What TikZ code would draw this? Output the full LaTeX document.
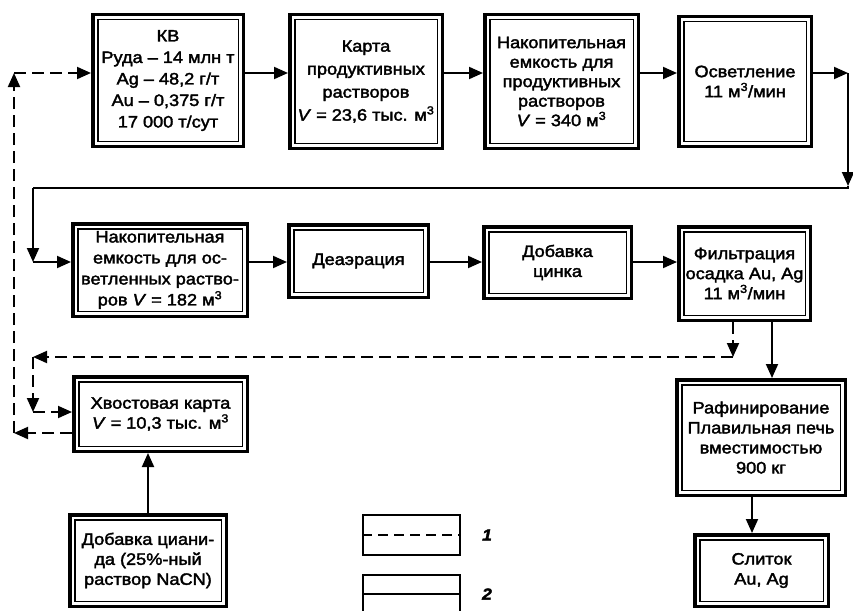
\documentclass[tikz,border=0pt]{standalone}
\usepackage{fontspec}
\setmainfont[FakeStretch=1.1,FakeBold=2.2]{Liberation Sans}
\usetikzlibrary{arrows.meta}
\newcommand{\cub}{м\textsuperscript{3}}
\begin{document}
\begin{tikzpicture}[x=1pt,y=-1pt,
  procbox/.style={draw, line width=3.5pt, inner sep=0pt, align=center,
    font=\fontsize{16.5}{20}\selectfont,
    path picture={\draw[line width=1.5pt]
      ([shift={(5pt,-5pt)}]path picture bounding box.north west) rectangle
      ([shift={(-5pt,5pt)}]path picture bounding box.south east);}},
  bs/.style={font=\fontsize{16.5}{#1}\selectfont},
  arr/.style={line width=1.9pt, -{Triangle[length=14pt,width=12pt]}},
  dsh/.style={arr, dash pattern=on 12pt off 6pt},
  legbox/.style={draw, line width=1.3pt, inner sep=0pt},
  leglabel/.style={font=\fontsize{16}{18}\selectfont\bfseries\itshape}]
\clip (0,0) rectangle (853,610);

% process boxes, top row
\node[procbox, bs=21.5, minimum width=150.5, minimum height=131.5] (kv) at (168,80.5)
  {КВ\\Руда – 14 млн т\\Ag – 48,2 г/т\\Au – 0,375 г/т\\17 000 т/сут};
\node[procbox, bs=23, minimum width=152.5, minimum height=133.5] (karta) at (366,81.5)
  {Карта\\продуктивных\\растворов\\\textit{V} = 23,6 тыс. \cub};
\node[procbox, bs=19.5, minimum width=153.5, minimum height=133.5] (nak1) at (561.5,81.5)
  {Накопительная\\емкость для\\продуктивных\\растворов\\\textit{V} = 340 \cub};
\node[procbox, minimum width=132.5, minimum height=129.5] (osv) at (745,81.5)
  {Осветление\\11 \cub/мин};

% middle row
\node[procbox, bs=21, minimum width=174.5, minimum height=92.5] (nak2) at (160,270)
  {Накопительная\\емкость для ос-\\ветленных раство-\\ров \textit{V} = 182 \cub};
\node[procbox, minimum width=139.5, minimum height=72.5] (deaer) at (358.5,261)
  {Деаэрация};
\node[procbox, minimum width=147.5, minimum height=71.5] (zinc) at (557.5,262.5)
  {Добавка\\цинка};
\node[procbox, minimum width=131.5, minimum height=93.5] (filt) at (744.5,273.5)
  {Фильтрация\\осадка Au, Ag\\11 \cub/мин};

% lower part
\node[procbox, minimum width=173.5, minimum height=74.5] (tail) at (160.5,414)
  {Хвостовая карта\\\textit{V} = 10,3 тыс. \cub};
\node[procbox, minimum width=156.5, minimum height=91.5] (cyan) at (148,560.5)
  {Добавка циани-\\да (25\%-ный\\раствор NaCN)};
\node[procbox, minimum width=168.5, minimum height=115.5] (refin) at (761,437.5)
  {Рафинирование\\Плавильная печь\\вместимостью\\900 кг};
\node[procbox, minimum width=133.5, minimum height=71.5] (ingot) at (761.5,570.5)
  {Слиток\\Au, Ag};

% levels and bends of the connectors
\coordinate (r1) at (0,73);
\coordinate (r2) at (0,262);
\coordinate (c1) at (848,73);
\coordinate (c2) at (848,186);
\coordinate (c3) at (33,188);
\coordinate (c4) at (33,262);
\coordinate (d1) at (733,357);
\coordinate (d2) at (33,357);
\coordinate (d3) at (33,412);
\coordinate (e1) at (14,433);
\coordinate (e2) at (14,73);
\coordinate (f1) at (772,0);
\coordinate (f2) at (752,0);
\coordinate (f3) at (148,0);

% main solution flow
\draw[arr] (kv.east |- r1) -- (karta.west |- r1);
\draw[arr] (karta.east |- r1) -- (nak1.west |- r1);
\draw[arr] (nak1.east |- r1) -- (osv.west |- r1);
\draw[arr] (osv.east |- r1) -- (c1);
\draw[arr] (c1) -- (c2);
\draw[line width=1.9pt] (c2) -- (c2 |- c3) -- (c3);
\draw[arr] (c3) -- (c4);
\draw[arr] (c4) -- (nak2.west |- r2);
\draw[arr] (nak2.east |- r2) -- (deaer.west |- r2);
\draw[arr] (deaer.east |- r2) -- (zinc.west |- r2);
\draw[arr] (zinc.east |- r2) -- (filt.west |- r2);
\draw[arr] (filt.south -| f1) -- (refin.north -| f1);
\draw[arr] (refin.south -| f2) -- (ingot.north -| f2);
\draw[arr] (cyan.north -| f3) -- (tail.south -| f3);

% barren solution and recycle (dashed)
\draw[dsh] (filt.south -| d1) -- (d1);
\draw[dsh] (d1) -- (d2);
\draw[dsh] (d2) -- (d3);
\draw[dsh] (d3) -- (tail.west |- d3);
\draw[dsh] (tail.west |- e1) -- (e1);
\draw[dsh] (e1) -- (e2);
\draw[dsh] (e2) -- (kv.west |- e2);

% legend
\node[legbox, minimum width=97, minimum height=40] (lg1) at (411.5,535) {};
\draw[line width=1.3pt, dash pattern=on 10pt off 6pt] (lg1.west) -- (lg1.east);
\node[leglabel] (lab1) at (487,535) {1};
\node[legbox, minimum width=97, minimum height=38] (lg2) at (411.5,594) {};
\draw[line width=1.3pt] (lg2.west) -- (lg2.east);
\node[leglabel] (lab2) at (487,594) {2};
\end{tikzpicture}
\end{document}
